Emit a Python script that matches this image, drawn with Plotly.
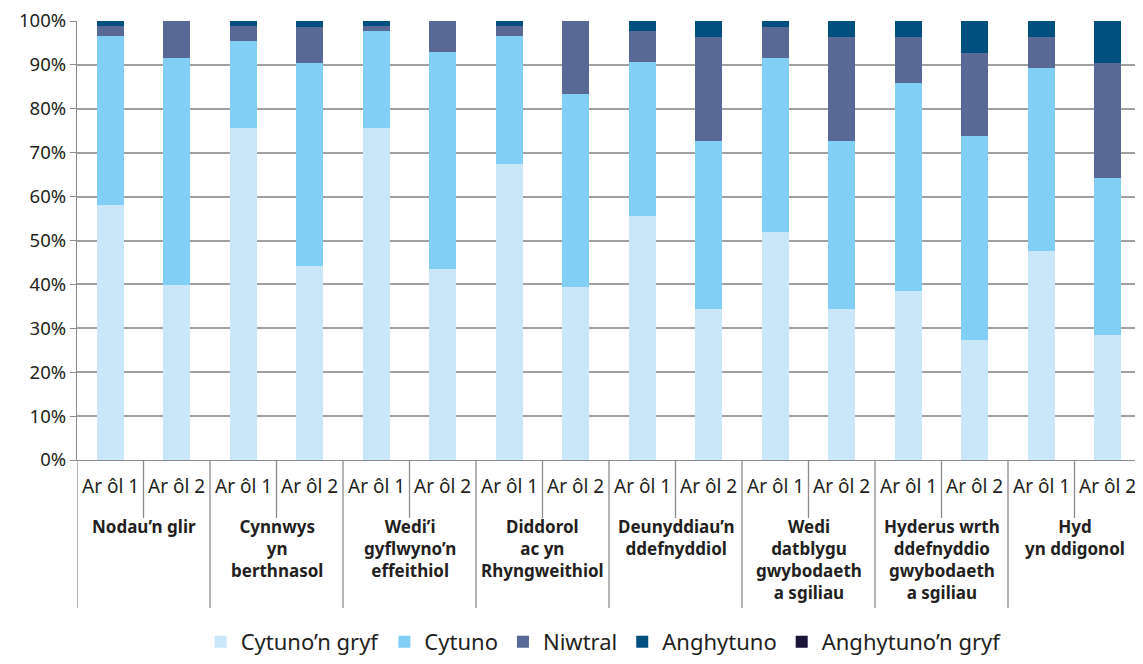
import plotly.graph_objects as go

groups = ["Nodau’n glir", "Cynnwys<br>yn<br>berthnasol", "Wedi’i<br>gyflwyno’n<br>effeithiol",
          "Diddorol<br>ac yn<br>Rhyngweithiol", "Deunyddiau’n<br>ddefnyddiol",
          "Wedi<br>datblygu<br>gwybodaeth<br>a sgiliau", "Hyderus wrth<br>ddefnyddio<br>gwybodaeth<br>a sgiliau",
          "Hyd<br>yn ddigonol"]
subs = ["Ar ôl 1", "Ar ôl 2"]

series_names = ["Cytuno’n gryf", "Cytuno", "Niwtral", "Anghytuno", "Anghytuno’n gryf"]
colors = ["#C9E7F8", "#81CFF4", "#586996", "#00507F", "#1B1537"]

cytuno_gryf = [58.2, 39.8, 75.7, 44.1, 75.7, 43.4, 67.5, 39.3, 55.5, 34.5, 52.0, 34.5, 38.6, 27.3, 47.5, 28.4]
cytuno      = [38.4, 51.8, 19.8, 46.4, 22.1, 49.6, 29.1, 44.1, 35.2, 38.2, 39.6, 38.2, 47.3, 46.6, 41.8, 35.9]
niwtral     = [2.3, 8.4, 3.4, 8.1, 1.1, 7.0, 2.3, 16.6, 7.0, 23.7, 7.0, 23.7, 10.5, 18.9, 7.1, 26.2]
anghytuno   = [1.1, 0.0, 1.1, 1.4, 1.1, 0.0, 1.1, 0.0, 2.3, 3.6, 1.4, 3.6, 3.6, 7.2, 3.6, 9.5]
anghytuno_gryf = [0.0] * 16

values = [cytuno_gryf, cytuno, niwtral, anghytuno, anghytuno_gryf]
xs = list(range(len(groups) * len(subs)))

FONT = "Noto Sans"
W, H = 1135, 656
ML, MR, MT, MB = 69, 2, 13, 204
PH = H - MT - MB

fig = go.Figure()
for name, col, vals in zip(series_names, colors, values):
    fig.add_trace(go.Bar(x=xs, y=vals, name=name, marker=dict(color=col, line=dict(width=0)),
                         width=0.41))

shapes = []
ann = []
grey = "#8C8C8C"
ng = len(groups)
long_y = -148.0 / PH
short_y = -58.0 / PH
for g in range(ng):
    left = g * 2 - 0.5
    shapes.append(dict(type="line", xref="x", yref="paper", x0=left, x1=left, y0=0, y1=long_y,
                       line=dict(color=grey, width=1.3)))
    mid = g * 2 + 0.5
    shapes.append(dict(type="line", xref="x", yref="paper", x0=mid, x1=mid, y0=0, y1=short_y,
                       line=dict(color=grey, width=1.3)))
    ann.append(dict(x=g * 2 + 0.5, y=-53.0 / PH, xref="x", yref="paper", text="<b>" + groups[g] + "</b>",
                    showarrow=False, yanchor="top", xanchor="center", align="center",
                    font=dict(family=FONT, size=17, color="#231F20")))
    for s in range(2):
        ann.append(dict(x=g * 2 + s, y=0, xref="x", yref="paper", yshift=-26, text=subs[s],
                        showarrow=False, yanchor="middle", xanchor="center",
                        font=dict(family=FONT, size=19, color="#231F20")))
right = ng * 2 - 0.5
shapes.append(dict(type="line", xref="x", yref="paper", x0=right, x1=right, y0=1, y1=long_y,
                   line=dict(color=grey, width=1.3)))

fig.update_layout(
    barmode="stack",
    width=W, height=H,
    margin=dict(l=ML, r=MR, t=MT, b=MB, autoexpand=False),
    paper_bgcolor="white", plot_bgcolor="white",
    font=dict(family=FONT, color="#231F20"),
    shapes=shapes, annotations=ann,
    showlegend=True,
    legend=dict(orientation="h", x=0.495, xanchor="center", y=-(MB - 1) / PH, yanchor="bottom",
                font=dict(family=FONT, size=22, color="#231F20"), traceorder="normal"),
    xaxis=dict(range=[-0.5, ng * 2 - 0.5], showticklabels=False, showgrid=False, zeroline=False,
               showline=True, linecolor=grey, linewidth=1.3),
    yaxis=dict(range=[0, 100], dtick=10, ticksuffix="%", showgrid=True, gridcolor="#A0A0A0",
               gridwidth=1.6, zeroline=False, showline=True, linecolor=grey, linewidth=1.3,
               ticks="outside", ticklen=6, tickcolor=grey, automargin=False,
               ticklabeloverflow="allow",
               tickfont=dict(family=FONT, size=18.5, color="#231F20")),
)
fig.write_html("out.html")
